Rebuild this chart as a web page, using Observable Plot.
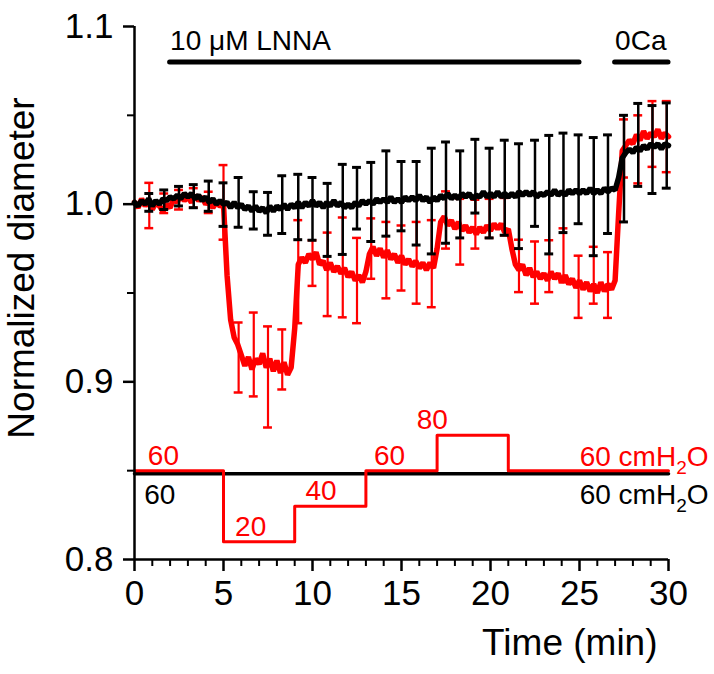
<!DOCTYPE html>
<html><head><meta charset="utf-8">
<script src="https://cdn.jsdelivr.net/npm/d3@7"></script>
<script src="https://cdn.jsdelivr.net/npm/@observablehq/plot@0.6"></script>
<style>
html,body{margin:0;padding:0;background:#fff;}
#chart svg{display:block;}
</style></head><body><div id="chart"></div>
<script>
// ---------- data ----------
const samplesPerMinute = 5; // traces sampled every 0.2 min

const redDiameter = [
 1.001,0.998,1.003,0.999,1.002,0.997,1.001,0.999,0.996,1.000,
 0.998,1.003,1.001,1.005,1.002,1.004,1.001,1.005,1.002,1.004,
 1.000,1.002,0.998,1.001,0.999,1.000,
 0.960,0.935,0.925,0.921,0.915,0.909,0.914,0.907,0.913,0.910,
 0.916,0.908,0.913,0.906,0.912,0.905,0.911,0.904,0.908,0.930,
 0.966,0.970,0.967,0.972,0.969,0.973,0.966,0.968,0.963,0.967,
 0.962,0.965,0.961,0.964,0.959,0.962,0.957,0.960,0.956,0.962,
 0.972,0.976,0.971,0.975,0.970,0.974,0.969,0.972,0.967,0.971,
 0.966,0.969,0.965,0.968,0.964,0.967,0.963,0.967,0.964,0.975,
 0.990,0.993,0.988,0.991,0.986,0.990,0.985,0.988,0.984,0.987,
 0.983,0.987,0.984,0.988,0.985,0.989,0.986,0.989,0.984,0.986,
 0.975,0.966,0.963,0.966,0.960,0.964,0.959,0.962,0.958,0.961,
 0.957,0.962,0.958,0.961,0.956,0.960,0.955,0.958,0.953,0.957,
 0.952,0.956,0.951,0.955,0.950,0.956,0.951,0.955,0.952,0.957,
 0.995,1.030,1.033,1.036,1.034,1.039,1.036,1.041,1.037,1.040,
 1.038,1.042,1.037,1.040,1.038
];

const blackDiameter = [
 1.001,0.999,1.002,1.000,1.003,0.999,1.002,1.000,1.003,1.002,
 1.004,1.003,1.005,1.003,1.006,1.004,1.006,1.003,1.005,1.002,
 1.004,1.001,1.003,1.000,1.002,1.000,
 1.001,0.998,1.001,0.998,1.000,0.997,0.999,0.996,0.999,0.996,
 0.998,0.995,0.999,0.996,0.999,0.997,1.000,0.997,1.000,0.998,
 1.001,0.998,1.001,0.999,1.002,0.999,1.001,0.998,1.001,0.999,
 1.002,0.999,1.001,0.998,1.000,0.998,1.001,0.999,1.002,1.000,
 1.002,1.000,1.003,1.001,1.003,1.001,1.004,1.001,1.003,1.001,
 1.004,1.002,1.004,1.002,1.005,1.002,1.004,1.001,1.004,1.002,
 1.005,1.003,1.006,1.003,1.005,1.003,1.006,1.004,1.006,1.003,
 1.005,1.004,1.007,1.004,1.006,1.004,1.007,1.004,1.006,1.004,
 1.006,1.004,1.007,1.005,1.007,1.005,1.007,1.004,1.006,1.005,
 1.007,1.005,1.008,1.005,1.007,1.005,1.008,1.006,1.008,1.006,
 1.008,1.006,1.009,1.006,1.008,1.006,1.009,1.007,1.009,1.008,
 1.015,1.026,1.029,1.031,1.029,1.032,1.030,1.033,1.031,1.034,
 1.032,1.034,1.031,1.034,1.033
];

const errTimes = [0.83,1.67,2.5,3.33,4.17,5.0,5.85,6.7,7.5,8.3,9.2,10.0,10.85,11.7,12.5,13.3,14.15,15.0,
  15.85,16.7,17.5,18.3,19.15,19.95,20.8,21.6,22.5,23.3,24.1,24.95,25.8,26.6,27.5,28.3,29.1,29.9];
const blackErrLow  = [0.996,0.997,0.999,0.998,0.996,0.9875,0.987,0.986,0.9825,0.9835,0.980,0.9797,0.9706,0.9717,0.986,0.979,0.982,0.985,
  0.977,0.972,0.978,0.981,0.995,0.981,0.9825,0.975,0.9875,0.972,0.984,0.989,0.971,0.9835,0.990,1.010,1.006,1.009];
const blackErrHigh = [1.006,1.008,1.010,1.011,1.013,1.012,1.015,1.007,1.0066,1.016,1.0168,1.015,1.0117,1.0224,1.0207,1.0235,1.030,1.024,
  1.024,1.0315,1.035,1.030,1.0365,1.0315,1.036,1.034,1.036,1.0387,1.040,1.039,1.0375,1.039,1.050,1.0567,1.0555,1.057];
const redErrLow  = [0.9865,0.995,0.997,0.998,0.995,0.980,0.894,0.8918,0.8743,0.8957,0.933,0.954,0.937,0.9363,0.933,0.958,0.947,0.9514,
  0.944,0.942,0.975,0.966,0.975,0.981,0.9825,0.9505,0.944,0.9505,0.956,0.936,0.944,0.936,1.015,1.0117,1.021,1.018];
const redErrHigh = [1.012,1.006,1.008,1.009,1.007,1.022,0.9334,0.939,0.9312,0.9295,0.991,0.9797,0.984,0.9925,0.981,0.992,0.990,0.988,
  0.990,0.991,1.0072,1.003,1.0025,1.003,1.0035,0.980,0.979,0.9797,0.9864,0.971,0.976,0.973,1.0477,1.050,1.058,1.058];

// pressure protocol (cmH2O)
const stepTimes = [0,5,9,13,17,21,30];
const redPressure = [60,20,40,60,80,60,60];
const blackPressureTimes = [0,30];
const blackPressure = [60,60];
const redPressureLabels = ["60","20","40","60","80"];
const redPressureLabelTimes = [0.75,5.65,9.6,13.45,15.85];
const redPressureLabelValues = [60,20,40,60,80];
const unitLabel = "60 cmH2O";

// treatments
const treatmentLabels = ["10 μM LNNA","0Ca"];
const treatmentStart = [2,27];
const treatmentEnd = [25,30];

// axes
const xTicks = [0,5,10,15,20,25,30];
const xMinorTicks = [1,2,3,4,6,7,8,9,11,12,13,14,16,17,18,19,21,22,23,24,26,27,28,29];
const yTicks = [0.8,0.9,1.0,1.1];
const yMinorTicks = [0.85,0.95,1.05];

// ---------- tables ----------
const red = redDiameter.map((v,i)=>({t:i/samplesPerMinute, v}));
const black = blackDiameter.map((v,i)=>({t:i/samplesPerMinute, v}));
const redErr = errTimes.map((t,i)=>({t, lo:redErrLow[i], hi:redErrHigh[i]}));
const blackErr = errTimes.map((t,i)=>({t, lo:blackErrLow[i], hi:blackErrHigh[i]}));
const pY = p => 0.79 + p/1000; // pressure trace drawn on the diameter axis
const redSteps = stepTimes.map((t,i)=>({t, y:pY(redPressure[i])}));
const blackSteps = blackPressureTimes.map((t,i)=>({t, y:pY(blackPressure[i])}));
const redLabels = redPressureLabels.map((s,i)=>({s, t:redPressureLabelTimes[i], y:pY(redPressureLabelValues[i])}));
const treatments = treatmentLabels.map((s,i)=>({s, x1:treatmentStart[i], x2:treatmentEnd[i]}));

const RED = "#ff0000";
const cap = 0.25;
const FONT = "Liberation Sans, Arial, Helvetica, sans-serif";

const svg = Plot.plot({
  width: 714, height: 674,
  marginLeft: 134, marginRight: 46, marginTop: 26, marginBottom: 115,
  x: {domain:[0,30]},
  y: {domain:[0.8,1.1]},
  style: {fontFamily: FONT, background: "#fff", color: "#000"},
  marks: [
    // traces
    Plot.line(red, {x:"t", y:"v", stroke: RED, strokeWidth: 5.5, strokeLinejoin: "miter"}),
    Plot.ruleX(redErr, {x:"t", y1:"lo", y2:"hi", stroke: RED, strokeWidth: 2.2}),
    Plot.ruleY(redErr, {x1: d=>d.t-cap, x2: d=>d.t+cap, y:"hi", stroke: RED, strokeWidth: 2.5}),
    Plot.ruleY(redErr, {x1: d=>d.t-cap, x2: d=>d.t+cap, y:"lo", stroke: RED, strokeWidth: 2.5}),
    Plot.line(black, {x:"t", y:"v", stroke: "#000", strokeWidth: 5.5, strokeLinejoin: "miter"}),
    Plot.ruleX(blackErr, {x:"t", y1:"lo", y2:"hi", stroke: "#000", strokeWidth: 2.5}),
    Plot.ruleY(blackErr, {x1: d=>d.t-cap, x2: d=>d.t+cap, y:"hi", stroke: "#000", strokeWidth: 3}),
    Plot.ruleY(blackErr, {x1: d=>d.t-cap, x2: d=>d.t+cap, y:"lo", stroke: "#000", strokeWidth: 3}),

    // pressure protocol
    Plot.line(blackSteps, {x:"t", y:"y", stroke:"#000", strokeWidth: 3.5, dy: 3}),
    Plot.line(redSteps, {x:"t", y:"y", curve:"step-after", stroke: RED, strokeWidth: 3}),
    Plot.text(redLabels, {x:"t", y:"y", text:"s", fill: RED, textAnchor:"start", lineAnchor:"bottom", dy:-6, fontSize: 28}),
    Plot.text([unitLabel], {x: ()=>30, y: ()=>pY(60), textAnchor:"end", lineAnchor:"bottom", dx: 40, dy:-5, fill: RED, fontSize: 28}),
    Plot.text(["60"], {x: ()=>0.55, y: ()=>pY(60), textAnchor:"start", lineAnchor:"top", dy: 13, fill:"#000", fontSize: 28}),
    Plot.text([unitLabel], {x: ()=>30, y: ()=>pY(60), textAnchor:"end", lineAnchor:"top", dx: 40, dy: 13, fill:"#000", fontSize: 28}),

    // treatment bars
    Plot.ruleY(treatments, {x1:"x1", x2:"x2", y: ()=>1.08, stroke:"#000", strokeWidth: 5, strokeLinecap:"round"}),
    Plot.text(treatments, {x:"x1", y: ()=>1.08, text:"s", textAnchor:"start", lineAnchor:"bottom", dy:-12, fontSize: 28, fill:"#000"}),

    // axes
    Plot.ruleX([0], {y1:0.8, y2:1.1, stroke:"#000", strokeWidth: 2.5}),
    Plot.ruleY([0.8], {x1:0, x2:30, stroke:"#000", strokeWidth: 2.5}),
    Plot.axisX({ticks: xTicks, tickSize: 12, tickPadding: 9, fontSize: 35, strokeWidth: 2.5, label: null, tickFormat: d=>String(d)}),
    Plot.ruleX(xMinorTicks, {x: d=>d, y1: 0.8, y2: 0.8, insetBottom: -7, stroke:"#000", strokeWidth: 2}),
    Plot.axisY({ticks: yTicks, tickSize: 11, tickPadding: 10, fontSize: 35, strokeWidth: 2.5, label: null, tickFormat: d3.format(".1f")}),
    Plot.ruleY(yMinorTicks, {y: d=>d, x1: 0, x2: 0, insetLeft: -7, stroke:"#000", strokeWidth: 2}),

    // axis titles
    Plot.text(["Time (min)"], {frameAnchor:"bottom-right", textAnchor:"end", lineAnchor:"middle", dx:-11, dy:84, fontSize: 37, fill:"#000"}),
    Plot.text(["Normalized diameter"], {frameAnchor:"left", rotate:-90, textAnchor:"middle", lineAnchor:"middle", dx:-112, dy:-25, fontSize: 37, fill:"#000"})
  ]
});

// subscript for H2O
d3.select(svg).selectAll("text").each(function(){
  const t = this.textContent;
  if (t === unitLabel && this.childElementCount === 0) {
    const s = d3.select(this);
    s.text(null);
    s.append("tspan").text("60 cmH");
    s.append("tspan").attr("dy", 8).attr("font-size", 19).text("2");
    s.append("tspan").attr("dy", -8).text("O");
  }
});

document.getElementById("chart").appendChild(svg);
</script>
</body></html>
